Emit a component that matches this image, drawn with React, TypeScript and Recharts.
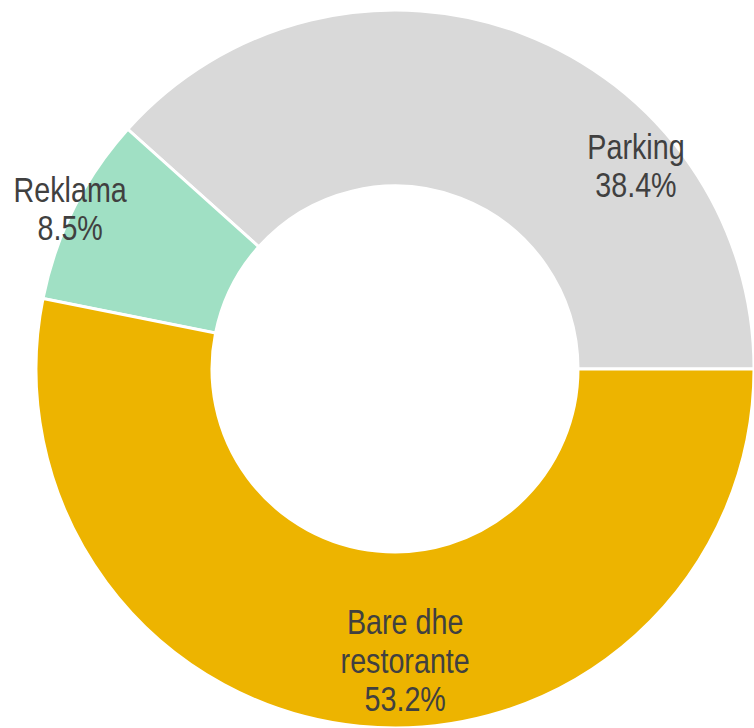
import React from "react";
import { PieChart, Pie, Cell } from "recharts";

// 구성 항목
const names = ["Parking", "Reklama", "Bare dhe\nrestorante"];
const shares = [38.4, 8.5, 53.2];
const COLORS = ["#d9d9d9", "#a0e0c4", "#edb400"];

// label spots (angle in degrees, distance from centre)
const labelSpots = [
  { angle: 40.1, radius: 315 },
  { angle: 153.8, radius: 362 },
  { angle: 272, radius: 292 },
];

const data = names.map((name, i) => ({ name, value: shares[i] }));

// narrow look: Liberation Sans squeezed horizontally
const FONT = "'Liberation Sans', Arial, sans-serif";
const SQUEEZE = 0.82;

const renderLabel = (props: any) => {
  const { cx, cy, index } = props;
  const spot = labelSpots[index];
  const rad = (spot.angle * Math.PI) / 180;
  const x = cx + spot.radius * Math.cos(rad);
  const y = cy - spot.radius * Math.sin(rad);
  const lines = [...data[index].name.split("\n"), `${shares[index].toFixed(1)}%`];
  const lineH = 38.5;
  const top = y - ((lines.length - 1) * lineH) / 2;
  return (
    <g key={`lbl-${index}`} transform={`translate(${x},0) scale(${SQUEEZE},1) translate(${-x},0)`}>
      <text
        x={x}
        y={top}
        textAnchor="middle"
        dominantBaseline="central"
        fill="#404040"
        fontSize={35}
        fontFamily={FONT}
      >
        {lines.map((ln, i) => (
          <tspan key={i} x={x} y={top + i * lineH}>
            {ln}
          </tspan>
        ))}
      </text>
    </g>
  );
};

export default function App() {
  return (
    <div style={{ position: "absolute", left: 0, top: 0, width: 754, height: 728, background: "#fff" }}>
      <PieChart width={754} height={728} margin={{ top: 0, right: 0, bottom: 0, left: 0 }}>
        <Pie
          data={data}
          dataKey="value"
          nameKey="name"
          cx={395}
          cy={369}
          startAngle={0}
          endAngle={360}
          outerRadius={359}
          innerRadius={183}
          stroke="#ffffff"
          strokeWidth={3}
          label={renderLabel}
          labelLine={false}
          isAnimationActive={false}
        >
          {data.map((entry, index) => (
            <Cell key={`cell-${index}`} fill={COLORS[index]} />
          ))}
        </Pie>
      </PieChart>
    </div>
  );
}
